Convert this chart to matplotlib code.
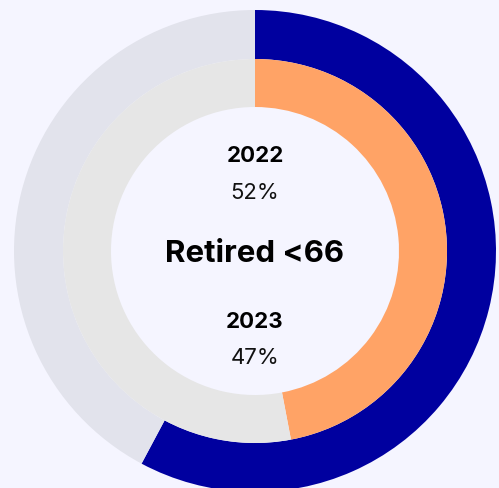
import matplotlib.pyplot as plt

# values read from the rings (share of a full turn, %)
outer_value = 57.8   # 2022 arc as drawn
inner_value = 47.0   # 2023 arc as drawn
years = ["2022", "2023"]
labels = ["52%", "47%"]
title = "Retired <66"

bg = "#f5f5ff"
blue = "#00009f"
orange = "#ffa366"
outer_track = "#e2e3ec"
inner_track = "#e6e6e6"

W, H = 499, 488
fig = plt.figure(figsize=(W / 100, H / 100), dpi=100, facecolor=bg)
ax = fig.add_axes([0, 0, 1, 1])
ax.set_facecolor(bg)

cx, cy = 255, H - 251

# outer ring (2022)
ax.pie([outer_value, 100 - outer_value], colors=[blue, outer_track],
       startangle=90, counterclock=False, radius=241, center=(cx, cy),
       wedgeprops=dict(width=49, linewidth=0))
# inner ring (2023)
ax.pie([inner_value, 100 - inner_value], colors=[orange, inner_track],
       startangle=90, counterclock=False, radius=192, center=(cx, cy),
       wedgeprops=dict(width=48, linewidth=0))

ax.set_xlim(0, W)
ax.set_ylim(0, H)
ax.set_aspect("auto")
ax.axis("off")

font = ["Inter", "DejaVu Sans"]
ax.text(cx, H - 156, years[0], ha="center", va="center", fontsize=16,
        fontweight="bold", family=font, color="#000000")
ax.text(cx, H - 193, labels[0], ha="center", va="center", fontsize=16,
        family=font, color="#111111")
ax.text(cx, H - 254, title, ha="center", va="center", fontsize=22.5,
        fontweight="bold", family=font, color="#000000")
ax.text(cx, H - 322, years[1], ha="center", va="center", fontsize=16,
        fontweight="bold", family=font, color="#000000")
ax.text(cx, H - 358, labels[1], ha="center", va="center", fontsize=16,
        family=font, color="#111111")

fig.savefig("out.png", dpi=100, facecolor=bg)
